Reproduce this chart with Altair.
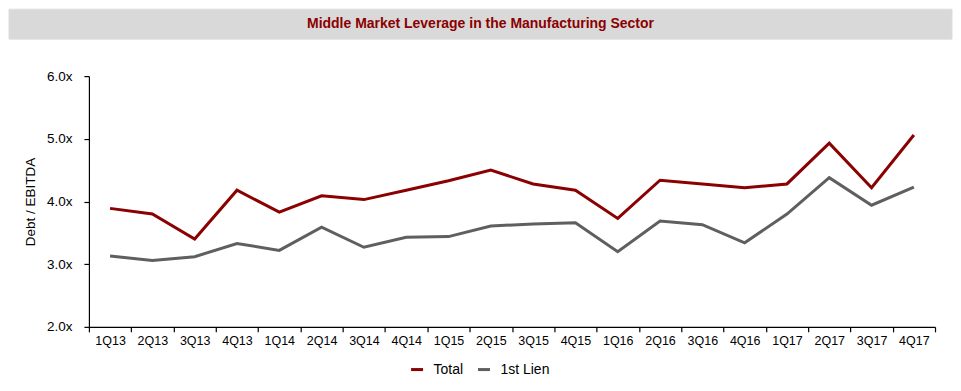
import altair as alt
import pandas as pd

title_text = "Middle Market Leverage in the Manufacturing Sector"

quarters = ["1Q13", "2Q13", "3Q13", "4Q13", "1Q14", "2Q14", "3Q14", "4Q14",
            "1Q15", "2Q15", "3Q15", "4Q15", "1Q16", "2Q16", "3Q16", "4Q16",
            "1Q17", "2Q17", "3Q17", "4Q17"]

total = [3.89, 3.80, 3.40, 4.18, 3.83, 4.09, 4.03, 4.18,
         4.33, 4.50, 4.28, 4.18, 3.73, 4.34, 4.28, 4.22,
         4.28, 4.93, 4.22, 5.06]

first_lien = [3.13, 3.06, 3.12, 3.33, 3.22, 3.59, 3.27, 3.43,
              3.44, 3.61, 3.64, 3.66, 3.20, 3.69, 3.63, 3.34,
              3.80, 4.38, 3.94, 4.23]

series_names = ["Total", "1st Lien"]
series_colors = ["#8B0000", "#5F5F5F"]
y_ticks = [2, 3, 4, 5, 6]

rows = []
for q, t, f in zip(quarters, total, first_lien):
    rows.append({"quarter": q, "series": "Total", "value": t})
    rows.append({"quarter": q, "series": "1st Lien", "value": f})
df = pd.DataFrame(rows)

RED = "#8B0000"
FONT = "Liberation Sans"
W, H = 847, 251

title_df = pd.DataFrame({"t": [title_text]})

# decorative title banner (gray bar above the plot, spanning the full chart width)
banner = alt.Chart(title_df).mark_rect(color="#D9D9D9", stroke="#DEDEDE", strokeWidth=1).encode(
    x=alt.value(-80), x2=alt.value(864), y=alt.value(-67), y2=alt.value(-37)
)
banner_text = alt.Chart(title_df).mark_text(
    fontSize=14, fontWeight="bold", color=RED, font=FONT, baseline="middle", align="center"
).encode(
    text="t:N", x=alt.value(392), y=alt.value(-52)
)

lines = alt.Chart(df).mark_line(strokeWidth=3).encode(
    x=alt.X("quarter:O", sort=quarters,
            scale=alt.Scale(type="band", paddingInner=0, paddingOuter=0),
            bandPosition=0.5,
            axis=alt.Axis(title=None, tickBand="extent", labelAngle=0,
                          labelFontSize=12.5, tickSize=5, labelPadding=3,
                          domainColor="#000000", tickColor="#000000",
                          labelColor="#000000", domainWidth=1.2, tickWidth=1.2)),
    y=alt.Y("value:Q", scale=alt.Scale(domain=[2, 6], nice=False, zero=False),
            axis=alt.Axis(title="Debt / EBITDA", values=y_ticks,
                          labelExpr="format(datum.value, '.1f') + 'x'",
                          grid=False, tickSize=5, labelPadding=12,
                          titlePadding=9, titleFontSize=13.5, titleFontWeight="normal",
                          titleColor="#000000",
                          labelFontSize=13.5, labelColor="#000000",
                          domainColor="#000000", tickColor="#000000",
                          domainWidth=1.2, tickWidth=1.2)),
    color=alt.Color("series:N",
                    scale=alt.Scale(domain=series_names, range=series_colors),
                    legend=alt.Legend(title=None, orient="none", direction="horizontal",
                                      legendX=321, legendY=286, padding=0,
                                      symbolType="stroke", symbolSize=144,
                                      symbolStrokeWidth=3, labelFontSize=14,
                                      labelColor="#000000", labelOffset=9,
                                      columnPadding=8)),
)

chart = alt.layer(banner, banner_text, lines).properties(
    width=W, height=H, padding=0, background="white"
).configure(font=FONT).configure_view(strokeOpacity=0)

chart.save("out.html", embed_options={"renderer": "svg", "actions": False})
